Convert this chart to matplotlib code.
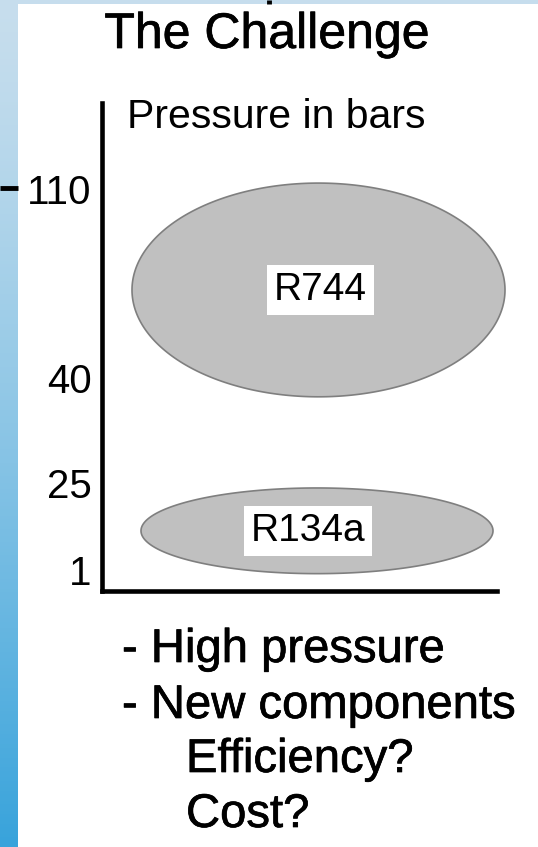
import numpy as np
import matplotlib
matplotlib.use("Agg")
from matplotlib import pyplot as plt
from matplotlib import patheffects
from matplotlib.patches import Rectangle

plt.rcParams['font.family'] = ['Liberation Sans', 'DejaVu Sans']

# chart data
TICK_PRESSURES = [1, 25, 40, 110]
TICK_LABELS = ['1', '25', '40', '110']
REFRIGERANTS = ['R744', 'R134a']
PRESSURE_LOW = [37.3, 0]
PRESSURE_HIGH = [112, 23.5]

TITLE = 'The Challenge'
AXIS_TITLE = 'Pressure in bars'
NOTES = ['- High pressure', '- New components', 'Efficiency?', 'Cost?']

# slide layout in pixels (figure is 538 x 847)
W, H = 538, 847
TICK_POS = np.array([20.5, 108.0, 212.5, 402.0])  # px above the baseline
ELL_X = [217.0, 215.5]  # ellipse centre, px right of the y axis
ELL_HALF_W = [186.5, 176.0]
LABEL_DX = [1.5, -9.0]


def to_pos(p):
    p = np.asarray(p, dtype=float)
    tp = np.array(TICK_PRESSURES, dtype=float)
    out = np.interp(p, tp, TICK_POS)
    lo = (TICK_POS[1] - TICK_POS[0]) / (tp[1] - tp[0])
    hi = (TICK_POS[-1] - TICK_POS[-2]) / (tp[-1] - tp[-2])
    out = np.where(p < tp[0], TICK_POS[0] + (p - tp[0]) * lo, out)
    out = np.where(p > tp[-1], TICK_POS[-1] + (p - tp[-1]) * hi, out)
    return out


def from_pos(y):
    y = np.asarray(y, dtype=float)
    tp = np.array(TICK_PRESSURES, dtype=float)
    out = np.interp(y, TICK_POS, tp)
    lo = (tp[1] - tp[0]) / (TICK_POS[1] - TICK_POS[0])
    hi = (tp[-1] - tp[-2]) / (TICK_POS[-1] - TICK_POS[-2])
    out = np.where(y < TICK_POS[0], tp[0] + (y - TICK_POS[0]) * lo, out)
    out = np.where(y > TICK_POS[-1], tp[-1] + (y - TICK_POS[-1]) * hi, out)
    return out


def fx(px):
    return px / W


def fy(py):
    return 1 - py / H


heavy = [patheffects.withStroke(linewidth=0.5, foreground='black')]

fig = plt.figure(figsize=(W / 100, H / 100), dpi=100)

# blue slide background with a white panel on top
bg = fig.add_axes([0, 0, 1, 1])
grad = np.linspace(0, 1, 256)[:, None]
top_col = np.array([0.78, 0.87, 0.93])
bot_col = np.array([0.22, 0.64, 0.86])
img = top_col * (1 - grad[..., None] ** 1.3) + bot_col * grad[..., None] ** 1.3
bg.imshow(img, aspect='auto', extent=[0, 1, 0, 1], origin='upper')
bg.set_xlim(0, 1)
bg.set_ylim(0, 1)
bg.axis('off')
bg.add_patch(Rectangle((fx(18), 0), 1, fy(4), facecolor='white', edgecolor='none'))
bg.plot([0, fx(18)], [fy(188), fy(188)], color='black', lw=3.5, solid_capstyle='butt')
bg.plot([fx(269), fx(269)], [fy(0), fy(4)], color='black', lw=3.5, solid_capstyle='butt')

# the pressure chart
ax_left, ax_right = 101.5, 497.0
ax_top, ax_bottom = 103.0, 590.5
ax = fig.add_axes([fx(ax_left), fy(ax_bottom), (ax_right - ax_left) / W, (ax_bottom - ax_top) / H])
ax.patch.set_alpha(0)
ax.set_yscale('function', functions=(to_pos, from_pos))
ax.set_xlim(0, ax_right - ax_left)
ax.set_ylim(from_pos(0), from_pos(ax_bottom - ax_top))

for s in ['top', 'right']:
    ax.spines[s].set_visible(False)
for s in ['left', 'bottom']:
    ax.spines[s].set_linewidth(3.3)
    ax.spines[s].set_capstyle('projecting')
ax.set_xticks([])
ax.set_yticks(TICK_PRESSURES)
ax.set_yticklabels(TICK_LABELS)
ax.yaxis.set_minor_locator(matplotlib.ticker.NullLocator())
ax.tick_params(axis='y', length=0, pad=7.0, labelsize=29, labelcolor='black')

t = np.linspace(0, 2 * np.pi, 400)
for i, name in enumerate(REFRIGERANTS):
    lo, hi = to_pos(PRESSURE_LOW[i]), to_pos(PRESSURE_HIGH[i])
    cy = (lo + hi) / 2
    hh = (hi - lo) / 2
    xs = ELL_X[i] + ELL_HALF_W[i] * np.cos(t)
    ys = from_pos(cy + hh * np.sin(t))
    ax.fill(xs, ys, facecolor='#c0c0c0', edgecolor='#7f7f7f', lw=1.2, clip_on=False, zorder=2)
    ax.text(ELL_X[i] + LABEL_DX[i], float(from_pos(cy)), name, ha='center', va='center',
            fontsize=28, zorder=3,
            bbox=dict(boxstyle='square,pad=0.18', facecolor='white', edgecolor='none'))

fig.text(fx(127), fy(128), AXIS_TITLE, fontsize=29.5, ha='left', va='baseline')
fig.text(fx(267), fy(48), TITLE, fontsize=36, ha='center', va='baseline', path_effects=heavy)

note_x = [122, 122, 186, 186]
note_y = [662, 718, 772, 827]
for txt, x, y in zip(NOTES, note_x, note_y):
    fig.text(fx(x), fy(y), txt, fontsize=34, ha='left', va='baseline', path_effects=heavy)

fig.savefig('out.png', dpi=100)
